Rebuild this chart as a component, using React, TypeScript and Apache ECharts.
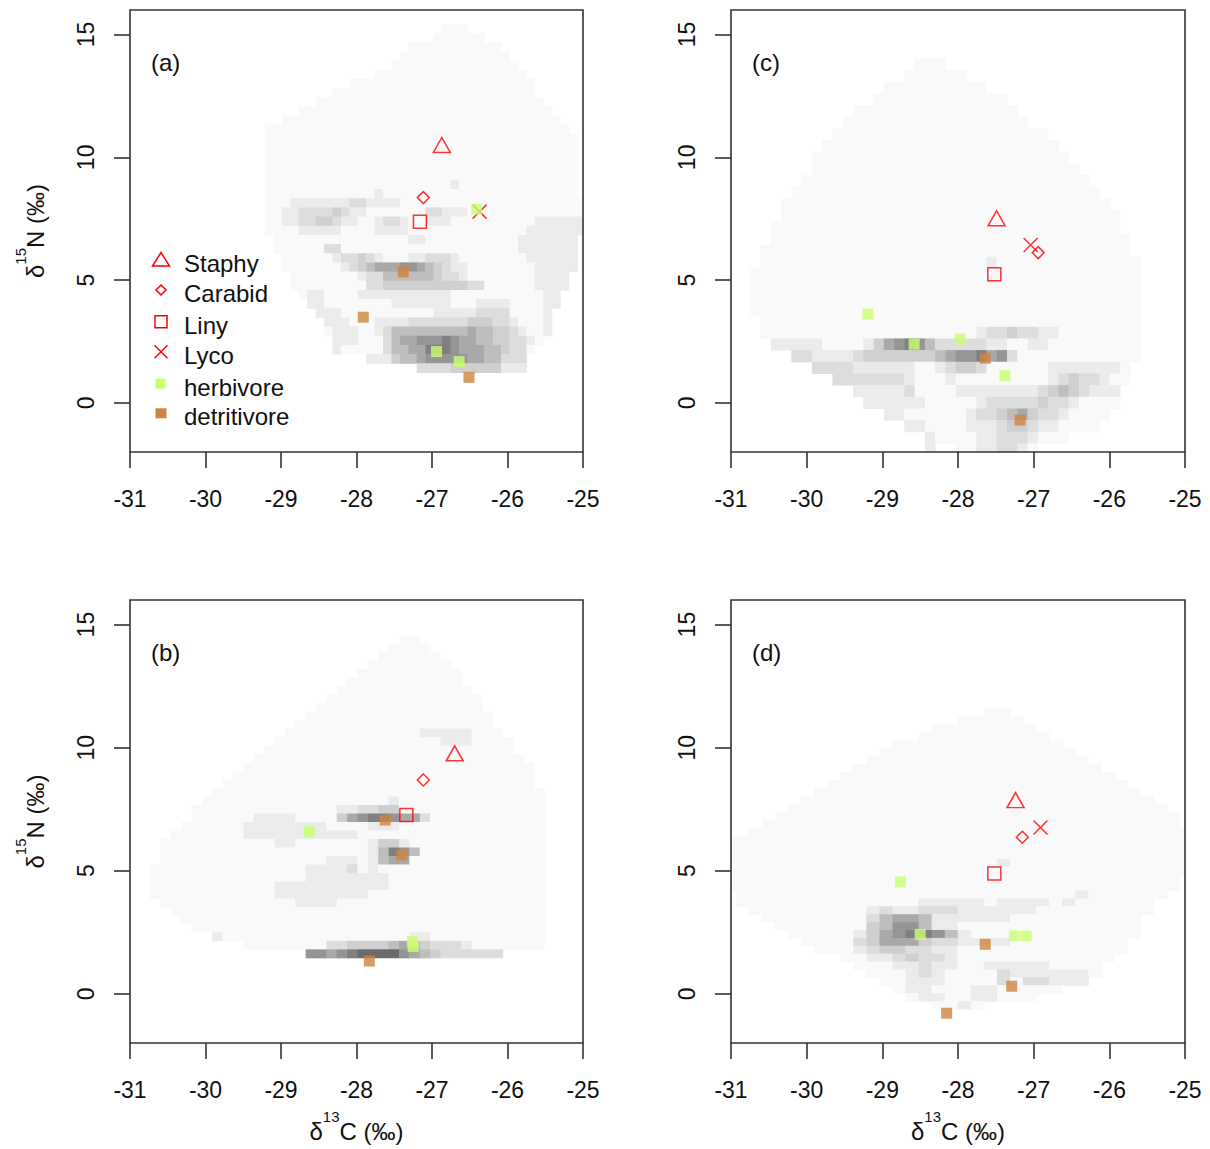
import React, { useEffect, useRef } from 'react';
import * as echarts from 'echarts';

type Pt = [number, number];

const FONT = '"Liberation Sans", Arial, Helvetica, sans-serif';

const panelLabels = ['(a)', '(b)', '(c)', '(d)'];
const yTickValues = [0, 5, 10, 15];

// marker points for panels in order (a), (b), (c), (d)
const staphy: Pt[][] = [[[-26.87, 10.5]], [[-26.7, 9.77]], [[-27.49, 7.52]], [[-27.24, 7.87]]];
const carabid: Pt[][] = [[[-27.115, 8.36]], [[-27.115, 8.69]], [[-26.94, 6.12]], [[-27.15, 6.36]]];
const liny: Pt[][] = [[[-27.16, 7.38]], [[-27.34, 7.26]], [[-27.52, 5.24]], [[-27.52, 4.89]]];
const lyco: Pt[][] = [[[-26.37, 7.79]], [], [[-27.04, 6.43]], [[-26.91, 6.76]]];
const herbivore: Pt[][] = [
  [[-26.41, 7.88], [-26.94, 2.09], [-26.64, 1.68]],
  [[-28.625, 6.59], [-27.26, 2.12], [-27.25, 1.92]],
  [[-29.19, 3.62], [-28.58, 2.39], [-27.97, 2.6], [-27.38, 1.11]],
  [[-28.76, 4.55], [-28.5, 2.41], [-27.25, 2.35], [-27.1, 2.35]],
];
const detritivore: Pt[][] = [
  [[-27.38, 5.34], [-27.91, 3.49], [-26.51, 1.04]],
  [[-27.62, 7.06], [-27.4, 5.64], [-27.83, 1.33]],
  [[-27.64, 1.82], [-27.18, -0.7]],
  [[-27.64, 2.01], [-27.29, 0.31], [-28.15, -0.79]],
];

// density grids: one string per grid row (top to bottom), runs "colFrom-colTo:level"
const densityA = [
  '21-23:1',
  '20-25:1',
  '17-27:1',
  '16-28:1',
  '15-29:1',
  '13-30:1',
  '10-31:1',
  '8-31:1',
  '6-32:1',
  '4-33:1',
  '2-34:1',
  '0-35:1',
  '0-36:1',
  '0-36:1',
  '0-36:1',
  '0-36:1',
  '0-36:1',
  '0-36:1 22:2',
  '0-36:1 13:2',
  '0-37:1 3-9:2 10-11:3 12-15:2',
  '0-37:1 2-3:2 4-7:3 8:4 9:3 10-11:2 19-20:3 21-23:2',
  '0-36:1 2-3:2 4-5:3 6-7:4 8:3 9-10:2 13:2 14-15:3 16:2 19-21:2 32-37:2',
  '0-36:1 4-8:2 13-16:2 31-37:2',
  '1-36:1 17-18:2 30-36:2',
  '1-36:1 7-8:3 30-36:2',
  '2-36:1 8:2 9-10:3 11:4 12:3 13:2 17-18:2 19-21:3 22:2 31-36:2',
  '2-36:1 9:2 10:3 11:4 12:5 13-15:6 16-17:7 18:6 19:5 20:4 21:3 22-23:2 32-36:2',
  '3-35:1 11:2 12-13:3 14-19:5 20:4 21-22:3 23:2 32-35:2',
  '3-35:1 12-13:3 14-23:4 24-25:3 32-35:2',
  '4-34:1 5-6:2 11-21:2 33-34:2',
  '5-34:1 5-6:2 15-21:2 25-28:2 33-34:2',
  '6-33:1 6-8:2 20-24:2 25-28:3 33:2',
  '7-33:1 7-9:2 13-16:2 17-23:3 24-26:4 27-28:3 29:2 33:2',
  '7-33:1 8-10:2 13:2 14:3 15-23:5 24:6 25-26:5 27-28:4 29:3 30:2 33:2',
  '8-32:1 8-10:2 14:3 15:5 16-17:6 18-20:7 21:8 22:7 23-24:6 25-26:5 27-28:4 29-30:3 31:2',
  '8-31:1 8:2 14:3 15-16:5 17-18:6 19-21:8 22:7 23-25:6 26-27:5 28:4 29-30:3',
  '12-30:1 12-14:2 15:4 16-17:5 18:6 19-23:7 24-25:6 26-27:5 28-30:3',
  '18-30:1 18-21:3 22-27:4 28-30:2',
];

const densityB = [
  '24-25:1',
  '23-26:1',
  '22-27:1',
  '21-28:1',
  '20-29:1',
  '19-29:1',
  '18-30:1',
  '17-31:1',
  '16-31:1',
  '15-32:1',
  '14-32:1',
  '13-33:1 26-30:2',
  '12-34:1 28-30:2',
  '11-34:1',
  '10-35:1',
  '9-36:1',
  '8-36:1',
  '7-36:1',
  '6-37:1',
  '5-37:1 23:2',
  '4-37:1 18-19:2 20-21:3 22-23:4',
  '4-37:1 10-13:2 18:4 19:6 20:7 21:8 22:8 23:7 24:6 25:6 26:3',
  '3-37:1 9-16:2 21-23:2',
  '2-37:1 9-19:2',
  '1-37:1 12-13:2 21:2 22-23:4 24:2',
  '1-37:1 21:2 22:5 23:8 24:7 25:5',
  '1-37:1 17-19:2 21:2 22:5 23:6 24:6',
  '0-37:1 15-18:2 19:3 21:2',
  '0-37:1 15-22:2',
  '0-37:1 12-22:2',
  '0-37:1 12-20:2',
  '1-37:1 14-17:2',
  '2-37:1',
  '3-37:1',
  '4-37:1',
  '6-37:1 6:2 25-26:2',
  '9-37:1 17-18:3 19-22:4 23:5 24:6 25:5 26:4 27-29:3 30:2',
  '15-16:7 17:6 18:7 19:8 20-23:9 24:7 25:6 26:5 27:4 28-33:3',
];

const densityC = [
  '16-18:1',
  '15-20:1',
  '13-22:1',
  '12-24:1',
  '10-25:1',
  '9-26:1',
  '8-28:1',
  '7-29:1',
  '6-30:1',
  '6-31:1',
  '5-32:1',
  '4-33:1',
  '3-34:1',
  '3-35:1',
  '2-35:1',
  '2-36:1',
  '1-36:1',
  '1-37:1 23:2',
  '0-37:1',
  '0-37:1',
  '0-37:1',
  '0-37:1',
  '1-37:1',
  '1-37:1 22:2 23-24:3 25:4 26-27:3 28-29:2',
  '2-37:1 2-6:2 11:2 12:4 13:6 14:7 15:8 16:7 17:5 18-22:3 23-24:2 27-28:2',
  '4-37:1 4-5:3 6-9:2 10:3 11-17:4 18:5 19:6 20-21:7 22:8 23:6 24:7 25:3',
  '6-36:1 6-9:3 10-15:2 18:2 19:3 20-21:4 22:3 29-35:2',
  '8-36:1 8-14:3 15:2 19:2 29:2 30:3 31:4 32-33:3 34:2',
  '10-35:1 10-14:2 15:3 20-27:2 28:3 29:4 30:5 31:4 32:3 33-35:2',
  '11-35:1 11-16:2 22:2 23-27:3 28:4 29-30:3 31:2',
  '13-34:1 13-14:2 21:2 22-23:3 24:4 25:5 26:6 27:4 28-29:3 30:2',
  '15-33:1 15-16:2 21-23:2 24:3 25-26:4 27:3 28-29:2',
  '17-30:1 17:2 22-23:2 24-26:3 27:2',
  '17:2 20-27:1 22-26:2 24-25:3',
];

const densityD = [
  '20-21:1',
  '18-22:1',
  '16-23:1',
  '15-24:1',
  '13-25:1',
  '12-26:1',
  '11-27:1',
  '10-28:1',
  '9-29:1',
  '8-30:1',
  '7-31:1',
  '6-32:1',
  '5-33:1',
  '4-34:1',
  '3-34:1',
  '2-35:1',
  '0-35:1',
  '0-35:1',
  '0-35:1',
  '0-35:1 21:2',
  '0-35:1',
  '0-34:1',
  '0-34:1',
  '1-33:1 27:2',
  '1-32:1 15-19:2 21-24:2 26:2',
  '2-32:1 11:2 12:3 13-14:2 15:3 16-17:3 18-23:2',
  '3-31:1 11:3 12:5 13-14:6 15:5 16-21:2',
  '4-31:1 11:4 12:5 13-14:7 15:5 16-17:2',
  '5-31:1 10:2 11:4 12:6 13:7 14-15:8 16:7 17:5 18:2',
  '6-30:1 10:3 11:4 12-14:6 15:4 16-17:3 18-21:2',
  '7-30:1 10:2 11:3 12-13:4 14-15:3 16-17:2',
  '9-29:1 11-12:2 13:3 14:4 15-16:3 17:2',
  '10-28:1 13-14:2 15:3 16-17:2 20-24:2',
  '11-28:1 14:2 15:3 16:2 21:3 22-27:2',
  '12-27:1 14-16:2 21:3 23-24:3 25-27:2',
  '13-25:1 14-15:2 19-20:2',
  '14-23:1 15-16:2 19-20:2',
  '16-19:1 18:2',
];

// density grid geometry in data units (per panel a, b, c, d)
const cellX0 = [-29.212, -30.735, -30.745, -31.11];
const cellDX = [0.1117, 0.1374, 0.1357, 0.1726];
const cellYTop = [15.43, 14.57, 14.03, 11.58];
const cellDY = [0.3734, 0.345, 0.4752, 0.321];

const grayLevels = ['#ffffff', '#f9f9f9', '#ebebeb', '#dddddd', '#cfcfcf', '#bebebe', '#a9a9a9', '#959595', '#808080', '#6b6b6b'];

const gridRects = [
  { left: 130, top: 10, width: 453, height: 442 },
  { left: 130, top: 600, width: 453, height: 443 },
  { left: 731, top: 10, width: 454, height: 442 },
  { left: 731, top: 600, width: 454, height: 443 },
];

function buildSegments(rows: string[], x0: number, dx: number, yTop: number, dy: number) {
  const out: number[][] = [];
  rows.forEach((row, m) => {
    const cells: number[] = [];
    row.split(/\s+/).filter(Boolean).forEach((tok) => {
      const [range, lv] = tok.split(':');
      const parts = range.split('-');
      const a = Number(parts[0]);
      const b = parts.length > 1 ? Number(parts[1]) : a;
      for (let k = a; k <= b; k++) cells[k] = Number(lv);
    });
    let k = 0;
    while (k < cells.length) {
      const lv = cells[k] || 0;
      if (!lv) {
        k++;
        continue;
      }
      let e = k;
      while (e + 1 < cells.length && (cells[e + 1] || 0) === lv) e++;
      out.push([x0 + k * dx, x0 + (e + 1) * dx, yTop - m * dy, yTop - (m + 1) * dy, lv]);
      k = e + 1;
    }
  });
  return out;
}

const RED = '#ff0000';
const hollow = { color: 'rgba(255,255,255,0)', borderColor: RED, borderWidth: 1.5 };

const groupDefs: any[] = [
  { name: 'Staphy', pts: staphy, symbol: 'triangle', size: [17, 15], style: hollow, z: 3 },
  { name: 'Carabid', pts: carabid, symbol: 'diamond', size: [12, 12], style: hollow, z: 3 },
  { name: 'Liny', pts: liny, symbol: 'rect', size: [13, 13], style: hollow, z: 3 },
  { name: 'Lyco', pts: lyco, symbol: 'path://M0,0L10,10M10,0L0,10', size: [14, 14], style: hollow, z: 3 },
  { name: 'herbivore', pts: herbivore, symbol: 'rect', size: [11, 11], style: { color: '#caff70' }, z: 4 },
  { name: 'detritivore', pts: detritivore, symbol: 'rect', size: [11, 11], style: { color: '#cd853f' }, z: 4 },
];

const richName = {
  d: { fontSize: 24, fontFamily: FONT, color: '#111', lineHeight: 44 },
  s: { fontSize: 15, fontFamily: FONT, color: '#111', lineHeight: 14, verticalAlign: 'top' },
};

function buildOption() {
  const densities = [densityA, densityB, densityC, densityD];
  const series: any[] = [];
  densities.forEach((rows, i) => {
    const segs = buildSegments(rows, cellX0[i], cellDX[i], cellYTop[i], cellDY[i]);
    series.push({
      type: 'custom',
      xAxisIndex: i,
      yAxisIndex: i,
      clip: true,
      silent: true,
      z: 1,
      data: segs,
      encode: { x: [0, 1], y: [2, 3] },
      renderItem: (_params: any, api: any) => {
        const p1 = api.coord([api.value(0), api.value(2)]);
        const p2 = api.coord([api.value(1), api.value(3)]);
        return {
          type: 'rect',
          shape: { x: p1[0], y: p1[1], width: p2[0] - p1[0] + 0.5, height: p2[1] - p1[1] + 0.5 },
          style: { fill: grayLevels[api.value(4) as number] },
        };
      },
    });
  });
  for (let i = 0; i < 4; i++) {
    groupDefs.forEach((g) => {
      series.push({
        type: 'scatter',
        name: g.name,
        xAxisIndex: i,
        yAxisIndex: i,
        data: g.pts[i],
        symbol: g.symbol,
        symbolSize: g.size,
        itemStyle: g.style,
        silent: true,
        z: g.z,
      });
    });
  }

  const grid = gridRects.map((r) => ({
    ...r,
    show: true,
    borderColor: '#333',
    borderWidth: 1.6,
    backgroundColor: 'transparent',
    z: 10,
  }));

  const tickStyle = { color: '#333', width: 1.6 };
  const xAxis = gridRects.map((_, i) => ({
    type: 'value',
    gridIndex: i,
    position: 'bottom',
    min: -31,
    max: -25,
    interval: 1,
    axisLine: { show: false, onZero: false },
    axisTick: { show: true, length: 16, lineStyle: tickStyle },
    axisLabel: { show: true, margin: 35, fontSize: 23, color: '#111', fontFamily: FONT },
    splitLine: { show: false },
    name: i === 1 || i === 3 ? '{d|δ}{s|13}{d|C (‰)}' : '',
    nameLocation: 'middle',
    nameGap: 66,
    nameTextStyle: { rich: richName },
  }));
  const yAxis = gridRects.map((_, i) => ({
    type: 'value',
    gridIndex: i,
    position: 'left',
    min: -2,
    max: 16,
    axisLine: { show: false, onZero: false },
    axisTick: { show: true, length: 16, lineStyle: tickStyle, customValues: yTickValues },
    axisLabel: { show: true, customValues: yTickValues, rotate: 90, margin: 33, fontSize: 23, color: '#111', fontFamily: FONT },
    splitLine: { show: false },
    name: i === 0 || i === 1 ? '{d|δ}{s|15}{d|N (‰)}' : '',
    nameLocation: 'middle',
    nameRotate: 90,
    nameGap: 73,
    nameTextStyle: { rich: richName },
  }));

  const graphics: any[] = [];
  gridRects.forEach((r, i) => {
    graphics.push({
      type: 'text',
      x: r.left + 21,
      y: r.top + 52,
      z: 20,
      style: { text: panelLabels[i], font: `24px ${FONT}`, fill: '#111', textAlign: 'left', textVerticalAlign: 'middle' },
    });
  });
  // legend in panel (a)
  const lx = 161;
  const legendRows = [259.5, 290, 321.7, 351.7, 383.5, 413.3];
  const strokeRed = { stroke: RED, lineWidth: 1.5, fill: 'none' };
  graphics.push({ type: 'polygon', z: 20, shape: { points: [[lx - 8.5, legendRows[0] + 6.5], [lx + 8.5, legendRows[0] + 6.5], [lx, legendRows[0] - 7]] }, style: strokeRed });
  graphics.push({ type: 'polygon', z: 20, shape: { points: [[lx, legendRows[1] - 5], [lx + 5, legendRows[1]], [lx, legendRows[1] + 5], [lx - 5, legendRows[1]]] }, style: strokeRed });
  graphics.push({ type: 'rect', z: 20, shape: { x: lx - 6, y: legendRows[2] - 6, width: 12, height: 12 }, style: strokeRed });
  graphics.push({ type: 'line', z: 20, shape: { x1: lx - 6.5, y1: legendRows[3] - 6.5, x2: lx + 6.5, y2: legendRows[3] + 6.5 }, style: { stroke: RED, lineWidth: 1.5 } });
  graphics.push({ type: 'line', z: 20, shape: { x1: lx + 6.5, y1: legendRows[3] - 6.5, x2: lx - 6.5, y2: legendRows[3] + 6.5 }, style: { stroke: RED, lineWidth: 1.5 } });
  graphics.push({ type: 'rect', z: 20, shape: { x: lx - 5.5, y: legendRows[4] - 5, width: 10, height: 10 }, style: { fill: '#caff70' } });
  graphics.push({ type: 'rect', z: 20, shape: { x: lx - 5.5, y: legendRows[5] - 5, width: 11, height: 10 }, style: { fill: '#cd853f' } });
  groupDefs.forEach((g, j) => {
    graphics.push({
      type: 'text',
      x: 184,
      y: legendRows[j] + 3.5,
      z: 20,
      style: { text: g.name, font: `24px ${FONT}`, fill: '#111', textAlign: 'left', textVerticalAlign: 'middle' },
    });
  });

  return {
    animation: false,
    backgroundColor: '#ffffff',
    textStyle: { fontFamily: FONT },
    grid,
    xAxis,
    yAxis,
    series,
    graphic: { elements: graphics },
  };
}

export default function App() {
  const ref = useRef<HTMLDivElement>(null);
  useEffect(() => {
    if (!ref.current) return;
    const chart = echarts.init(ref.current, undefined, { renderer: 'svg' });
    chart.setOption(buildOption() as any);
    return () => chart.dispose();
  }, []);
  return (
    <div
      ref={ref}
      style={{ position: 'absolute', left: 0, top: 0, width: 1210, height: 1149, background: '#ffffff' }}
    />
  );
}
